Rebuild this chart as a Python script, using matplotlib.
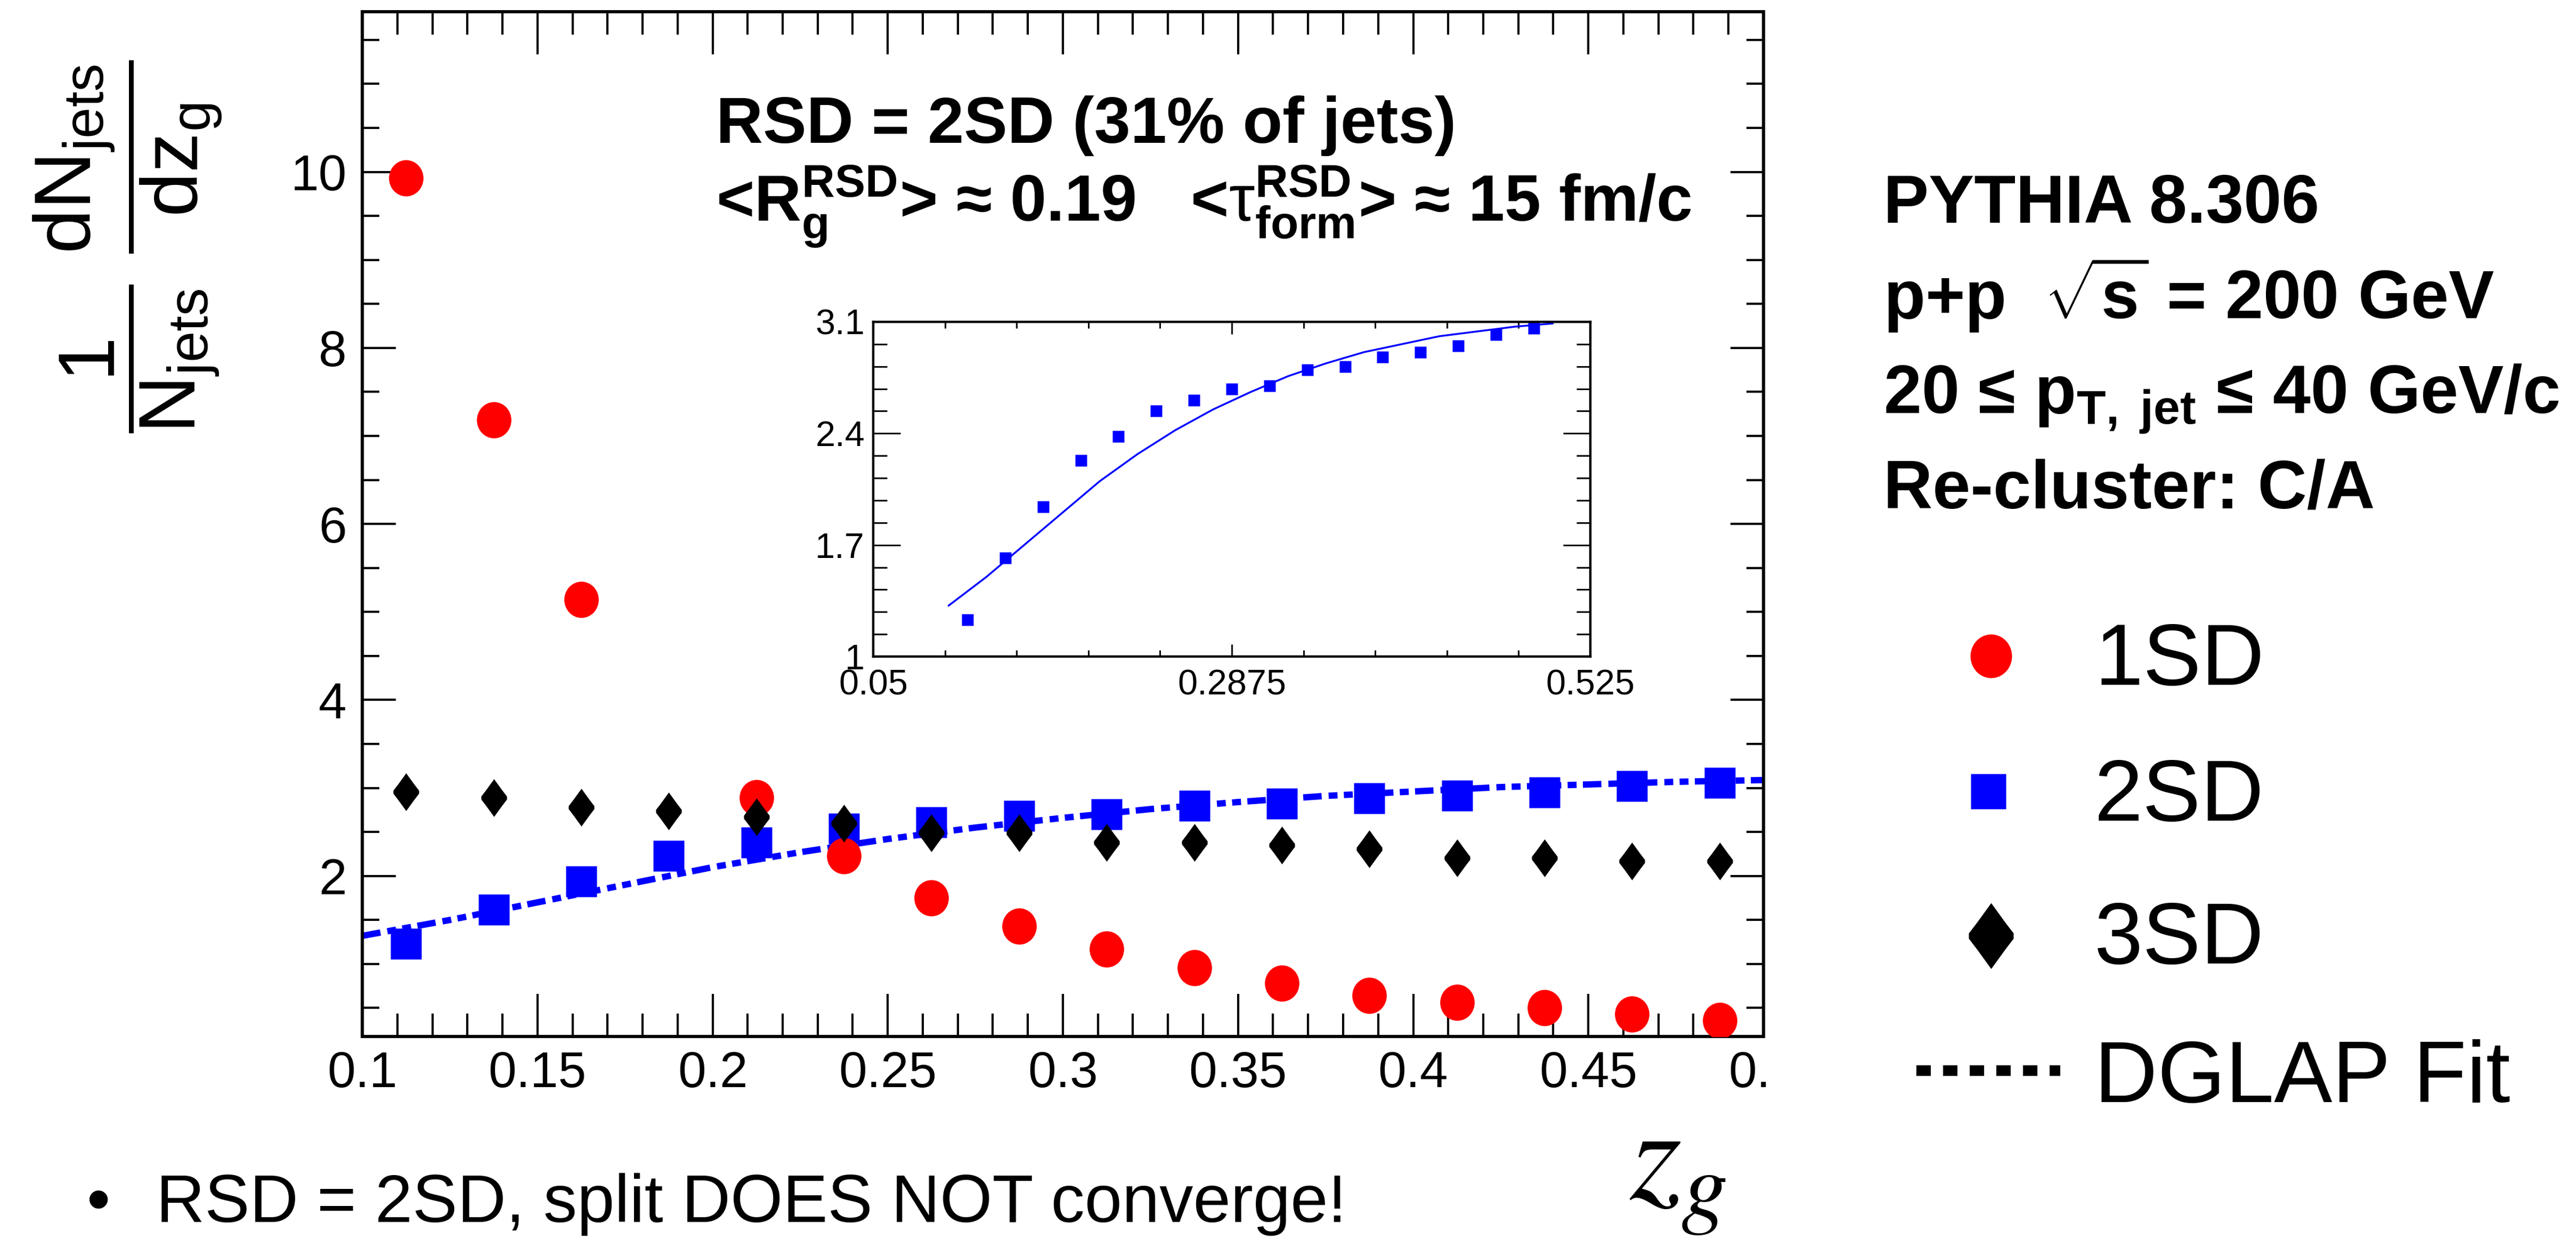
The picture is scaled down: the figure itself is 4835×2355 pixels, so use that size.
import numpy as np
import matplotlib
matplotlib.use("Agg")
import matplotlib.pyplot as plt
from matplotlib.path import Path
from matplotlib.transforms import Affine2D, Bbox, TransformedBbox

plt.rcParams['font.family'] = ['Liberation Sans', 'DejaVu Sans']
plt.rcParams['mathtext.fontset'] = 'custom'
plt.rcParams['mathtext.rm'] = 'Liberation Sans'
plt.rcParams['mathtext.bf'] = 'Liberation Sans:bold'
plt.rcParams['mathtext.it'] = 'Liberation Sans:italic'
plt.rcParams['mathtext.sf'] = 'Liberation Sans'

# z_g bin centres
zg = [0.1125, 0.1375, 0.1625, 0.1875, 0.2125, 0.2375, 0.2625, 0.2875,
      0.3125, 0.3375, 0.3625, 0.3875, 0.4125, 0.4375, 0.4625, 0.4875]
# 1/N dN/dz_g for the three soft-drop splittings
sd1 = [9.93, 7.18, 5.14, np.nan, 2.89, 2.23, 1.75, 1.43,
       1.17, 0.96, 0.78, 0.64, 0.565, 0.50, 0.43, 0.36]
sd2 = [1.23, 1.62, 1.94, 2.23, 2.38, 2.54, 2.61, 2.68,
       2.70, 2.80, 2.82, 2.88, 2.91, 2.95, 3.02, 3.06]
sd3 = [2.955, 2.89, 2.78, 2.74, 2.67, 2.60, 2.49, 2.49,
       2.38, 2.38, 2.35, 2.31, 2.205, 2.205, 2.17, 2.17]
# DGLAP fit to the 2SD curve
fit_x = [0.10, 0.125, 0.15, 0.175, 0.20, 0.225, 0.25, 0.275, 0.30,
         0.325, 0.35, 0.375, 0.40, 0.425, 0.45, 0.475, 0.50]
fit_y = [1.32, 1.50, 1.70, 1.90, 2.10, 2.27, 2.42, 2.55, 2.66,
         2.76, 2.84, 2.91, 2.96, 3.01, 3.04, 3.07, 3.09]

x_ticks = [0.1, 0.15, 0.2, 0.25, 0.3, 0.35, 0.4, 0.45, 0.5]
x_tick_labels = ["0.1", "0.15", "0.2", "0.25", "0.3", "0.35", "0.4", "0.45", "0.5"]
y_ticks = [2, 4, 6, 8, 10]
inset_x_ticks = [0.05, 0.2875, 0.525]
inset_x_labels = ["0.05", "0.2875", "0.525"]
inset_y_ticks = [1, 1.7, 2.4, 3.1]
inset_y_labels = ["1", "1.7", "2.4", "3.1"]

W, H = 4835, 2355


def box(l, t, r, b):
    return [l / W, 1 - b / H, (r - l) / W, (b - t) / H]


# ROOT-like marker shapes
ellipse = Path.unit_circle().transformed(Affine2D().scale(0.95, 1.0))
diamond = Path([(0, 1), (0.42, 0.42), (0.68, 0.08), (0.68, -0.08), (0.42, -0.42),
                (0, -1), (-0.42, -0.42), (-0.68, -0.08), (-0.68, 0.08), (-0.42, 0.42),
                (0, 1)], closed=True)

RED, BLUE = '#ff0000', '#0000ff'

fig = plt.figure(figsize=(W / 100, H / 100), dpi=100)

# main pad
ax = fig.add_axes(box(680, 22, 3310, 1945))
ax.plot(fit_x, fit_y, color=BLUE, lw=8.6, dashes=[2.9, 1.1, 1.4, 1.0, 1.4, 1.0], zorder=2)
ax.plot(zg, sd2, ls='none', marker='s', ms=42, color=BLUE, mec='none', zorder=3)
ax.plot(zg, sd1, ls='none', marker=ellipse, ms=49, color=RED, mec='none', zorder=3)
ax.plot(zg, sd3, ls='none', marker=diamond, ms=51, color='black', mec='none', zorder=4)
ax.set_xlim(0.1, 0.5)
ax.set_ylim(0.176, 11.82)
ax.set_xticks(x_ticks)
ax.set_xticklabels(x_tick_labels)
ax.set_xticks(np.arange(0.1, 0.5001, 0.01), minor=True)
ax.set_yticks(y_ticks)
ax.set_yticks(np.arange(0.5, 11.8, 0.5), minor=True)
ax.tick_params(which='both', direction='in', top=True, right=True, width=3,
               labelsize=68)
ax.tick_params(axis='x', which='major', length=57.6, pad=19)
ax.tick_params(axis='x', which='minor', length=31)
ax.tick_params(axis='y', which='major', length=45, pad=21)
ax.tick_params(axis='y', which='minor', length=23)
for s in ax.spines.values():
    s.set_linewidth(4.3)

# the pad is cut just right of its frame
cut = TransformedBbox(Bbox.from_extents(0, 0, 3318 / W, 1), fig.transFigure)
last = ax.xaxis.get_major_ticks()[-1].label1
last.set_clip_on(True)
last.set_clip_box(cut)

# inset with the 2SD distribution and its fit
ins = fig.add_axes(box(1639, 604, 2985, 1232))
ins.plot(zg, sd2, ls='none', marker='s', ms=16.5, color=BLUE, mec='none')
ins.plot(fit_x, fit_y, color=BLUE, lw=2.5)
ins.set_xlim(0.05, 0.525)
ins.set_ylim(1, 3.1)
ins.set_xticks(inset_x_ticks)
ins.set_xticklabels(inset_x_labels)
ins.set_xticks(np.linspace(0.05, 0.525, 11), minor=True)
ins.set_yticks(inset_y_ticks)
ins.set_yticklabels(inset_y_labels)
ins.set_yticks(np.linspace(1, 3.1, 16), minor=True)
ins.tick_params(which='both', direction='in', top=True, right=True, width=2.2,
                labelsize=48)
ins.tick_params(axis='x', which='major', length=16.5, pad=17)
ins.tick_params(axis='x', which='minor', length=8.5)
ins.tick_params(axis='y', which='major', length=37, pad=11.5)
ins.tick_params(axis='y', which='minor', length=19)
for s in ins.spines.values():
    s.set_linewidth(3.2)

# overlay in pixel coordinates for labels and legend
ov = fig.add_axes([0, 0, 1, 1])
ov.set_xlim(0, W)
ov.set_ylim(H, 0)
ov.axis('off')

ov.text(240, 463,
        r'$\dfrac{\mathrm{1}}{\mathrm{N}_{\mathrm{jets}}}\ \dfrac{\mathrm{dN}_{\mathrm{jets}}}{\mathrm{dz}_{\mathrm{g}}}$',
        rotation=90, ha='center', va='center', fontsize=108)

ov.text(1344, 268, "RSD = 2SD (31% of jets)", fontsize=88, weight='bold',
        ha='left', va='baseline')
ov.text(1344, 415,
        r"<$\mathbf{R}_{\mathbf{g}}^{\mathbf{RSD}}$> ≈ 0.19   "
        r"<$\mathrm{\tau}_{\mathbf{form}}^{\mathbf{RSD}}$> ≈ 15 fm/c",
        fontsize=88, weight='bold', ha='left', va='baseline')

info = ["PYTHIA 8.306",
        r"p+p  $\sqrt{\mathbf{s}}$ = 200 GeV",
        r"20 ≤ p$_{\mathbf{T,\ jet}}$ ≤ 40 GeV/c",
        "Re-cluster: C/A"]
for line, yb in zip(info, [418, 598, 776, 954]):
    ov.text(3535, yb, line, fontsize=92, weight='bold', ha='left', va='baseline')

# legend
ov.plot([3737], [1231], marker=ellipse, ms=59, color=RED, mec='none')
ov.plot([3732], [1485], marker='s', ms=48, color=BLUE, mec='none')
ov.plot([3737], [1756], marker=diamond, ms=89, color='black', mec='none')
ov.plot([3597, 3867], [2009, 2009], color='black', lw=14.4, dashes=[1.35, 1.15])
for name, yb in zip(["1SD", "2SD", "3SD", "DGLAP Fit"], [1285, 1540, 1808, 2068]):
    ov.text(3931, yb, name, fontsize=118, ha='left', va='baseline')

ov.text(163, 2293, "•", fontsize=91, ha='left', va='baseline')
ov.text(293, 2293, "RSD = 2SD, split DOES NOT converge!", fontsize=91,
        ha='left', va='baseline')
ov.text(3058, 2250, r'$z_g$', fontsize=180, math_fontfamily='stix',
        ha='left', va='baseline')

fig.savefig("out.png", dpi=100, facecolor='white')
